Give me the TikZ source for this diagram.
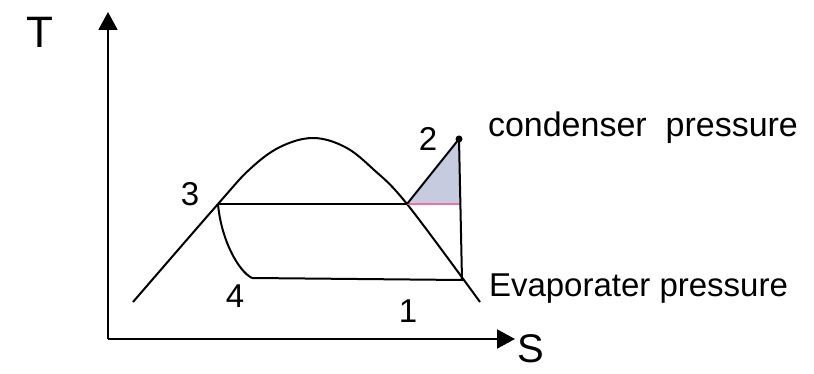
\documentclass[tikz,border=0pt]{standalone}
\usepackage{fontspec}
\setmainfont{Liberation Sans}
\usetikzlibrary{arrows.meta}
\definecolor{trifill}{RGB}{198,203,224}
\definecolor{pinkline}{RGB}{240,112,160}

\begin{document}
\begin{tikzpicture}[x=1pt, y=1pt, line width=2pt,
    every node/.style={inner sep=0pt, font=\fontsize{33}{38}\selectfont},
    axislbl/.style={font=\fontsize{44}{50}\selectfont},
    tip/.style={-{Triangle[length=18pt,width=19pt]}}]
  \useasboundingbox (0,0) rectangle (814,374);
  % points of the cycle
  \coordinate (O) at (108,35);
  \coordinate (ytop) at (108,362);
  \coordinate (xend) at (515,35);
  \coordinate (p1) at (462,94);
  \coordinate (p2) at (459,235);
  \coordinate (p3) at (218,170);
  \coordinate (p4) at (252,96);
  \coordinate (pg) at (407,170);
  \coordinate (p2s) at (460,170);
  % shaded part
  \fill[trifill] (pg) -- (p2) -- (p2s) -- cycle;
  % axes
  \draw[tip] (O) -- (ytop);
  \draw[tip] (O) -- (xend);
  % dome
  \draw plot[smooth, tension=0.6] coordinates {(133,72) (218,170) (250,205) (280,227) (313,236) (345,227) (373,205) (407,170) (480,72)};
  % cycle
  \draw (p3) -- (pg);
  \draw[pinkline, line width=2.5pt] (pg) -- (p2s);
  \draw (pg) -- (p2) -- (p1) -- (p4);
  \draw (p3) .. controls (221,135) and (238,103) .. (p4);
  \fill (p2) circle (3.5pt);
  % labels
  \node[axislbl] (lT) at (40,342) {T};
  \node[axislbl, font=\fontsize{40}{46}\selectfont] (lS) at (531,25) {S};
  \node (l3) at (190,180) {3};
  \node (l2) at (428,235) {2};
  \node (l4) at (235,78) {4};
  \node (l1) at (408,63) {1};
  \node[anchor=base west, font=\fontsize{34}{40}\selectfont] (lcond) at (487,237) {condenser\ \ pressure};
  \node[anchor=base west] (levap) at (488,77) {Evaporater pressure};
\end{tikzpicture}
\end{document}
